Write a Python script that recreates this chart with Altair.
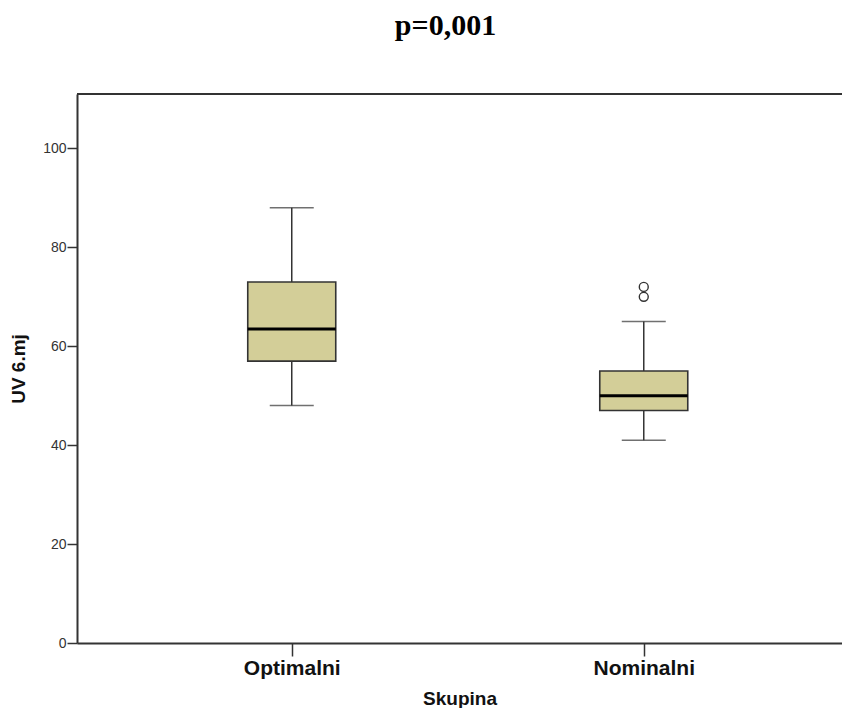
import altair as alt
import pandas as pd

groups = ["Optimalni", "Nominalni"]
whisker_low = [48, 41]
q1 = [57, 47]
median = [63.5, 50]
q3 = [73, 55]
whisker_high = [88, 65]
outlier_group = ["Nominalni", "Nominalni"]
outlier_values = [70, 72]
y_ticks = [0, 20, 40, 60, 80, 100]

box_df = pd.DataFrame({
    "group": groups,
    "low": whisker_low,
    "q1": q1,
    "median": median,
    "q3": q3,
    "high": whisker_high,
})
out_df = pd.DataFrame({"group": outlier_group, "value": outlier_values})

dark = "#333333"
PLOT_W = 765
PLOT_H = 549
yscale = alt.Scale(domain=[0, 111], nice=False, zero=True)
xscale = alt.Scale(type="point", domain=groups, padding=0.5866, align=0.52)

xenc = alt.X(
    "group:N",
    sort=groups,
    scale=xscale,
    axis=alt.Axis(
        title="Skupina",
        labelFont="Liberation Sans",
        labelFontSize=21,
        labelFontWeight="bold",
        labelColor="#111111",
        labelPadding=1,
        labelAngle=0,
        tickSize=13,
        tickColor=dark,
        tickWidth=1.5,
        domainColor=dark,
        domainWidth=2,
        titleFont="Liberation Sans",
        titleFontSize=19,
        titleFontWeight="bold",
        titleColor="#111111",
        titlePadding=11,
        grid=False,
    ),
)

yaxis = alt.Axis(
    title="UV 6.mj",
    values=y_ticks,
    labelFont="Liberation Sans",
    labelFontSize=14,
    labelColor="#333333",
    labelPadding=1,
    tickSize=10,
    tickColor=dark,
    tickWidth=1.5,
    domainColor=dark,
    domainWidth=2,
    titleFont="Liberation Sans",
    titleFontSize=19,
    titleFontWeight="bold",
    titleColor="#111111",
    titlePadding=14,
    grid=False,
)

base = alt.Chart(box_df)

top_border = base.mark_rule(color=dark, strokeWidth=2).encode(
    x=alt.value(0), x2=alt.value(PLOT_W), y=alt.value(0)
)

whiskers = base.mark_rule(color=dark, strokeWidth=1.5).encode(
    x=xenc,
    y=alt.Y("low:Q", scale=yscale, axis=yaxis),
    y2="high:Q",
)

caps_low = base.mark_tick(size=44, thickness=1.5, color=dark, orient="horizontal").encode(
    x=xenc, y=alt.Y("low:Q", scale=yscale)
)
caps_high = base.mark_tick(size=44, thickness=1.5, color=dark, orient="horizontal").encode(
    x=xenc, y=alt.Y("high:Q", scale=yscale)
)

boxes = base.mark_bar(size=88, fill="#D3CE98", stroke=dark, strokeWidth=1.6).encode(
    x=xenc,
    y=alt.Y("q1:Q", scale=yscale),
    y2="q3:Q",
)

medians = base.mark_tick(size=88, thickness=3, color="#000000", orient="horizontal", opacity=1).encode(
    x=xenc, y=alt.Y("median:Q", scale=yscale)
)

outliers = alt.Chart(out_df).mark_point(
    shape="circle", filled=False, color=dark, size=80, strokeWidth=1.4, opacity=1
).encode(
    x=xenc, y=alt.Y("value:Q", scale=yscale)
)

chart = alt.layer(
    whiskers, caps_low, caps_high, boxes, medians, outliers, top_border
).properties(
    width=PLOT_W,
    height=PLOT_H,
    autosize=alt.AutoSizeParams(type="none"),
    padding={"left": 69, "top": 86, "right": 0, "bottom": 65},
    title=alt.TitleParams(
        text="p=0,001",
        font="Liberation Serif",
        fontSize=30,
        fontWeight="bold",
        color="#000000",
        anchor="middle",
        frame="group",
        dx=-14,
        offset=52,
    ),
).configure_view(
    fill="#F0F0F0", stroke=None
).configure(background="white")

chart.save("out.html", embed_options={"renderer": "svg", "actions": False})
